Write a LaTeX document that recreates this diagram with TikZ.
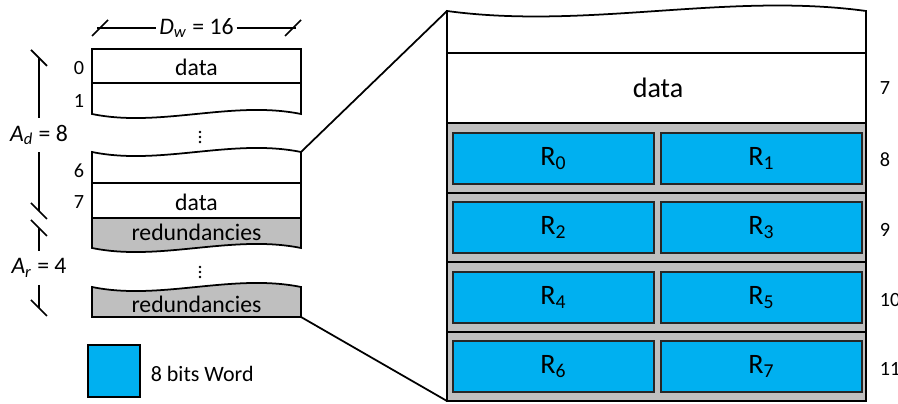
\documentclass[tikz,border=0pt]{standalone}
\usepackage{fontspec}
\setmainfont{Carlito}
\usepackage{tikz}
\definecolor{wordblue}{RGB}{0,176,240}
\definecolor{redgray}{RGB}{191,191,191}
\tikzset{
  memline/.style={line width=1pt},
  word/.style={draw=black!85,line width=0.7pt,fill=wordblue,minimum width=4.02cm,minimum height=1.02cm,inner sep=0pt,font=\fontsize{16}{19}\selectfont},
  addr/.style={font=\fontsize{11.5}{14}\selectfont,inner sep=2pt},
  celltxt/.style={font=\fontsize{13.5}{16}\selectfont},
  dimtxt/.style={font=\fontsize{13.5}{16}\selectfont,inner sep=1.5pt},
}
\begin{document}
\begin{tikzpicture}[x=0.02cm,y=-0.02cm]
      \useasboundingbox (0,0) rectangle (898,404);
      % left: memory words
      \draw[memline,fill=white] (92,49) rectangle (301,83);
      \draw[memline,fill=white] (92,83) -- (301,83) -- (301,114) .. controls (232,100) and (160,128) .. (92,114) -- cycle;
      \draw[memline,fill=white] (92,152) .. controls (160,166) and (232,138) .. (301,152) -- (301,183) -- (92,183) -- cycle;
      \draw[memline,fill=white] (92,183) rectangle (301,218);
      \draw[memline,fill=redgray] (92,218) -- (301,218) -- (301,248) .. controls (232,234) and (160,262) .. (92,248) -- cycle;
      \draw[memline,fill=redgray] (92,287) .. controls (160,301) and (232,273) .. (301,287) -- (301,317) -- (92,317) -- cycle;
      \coordinate (w6ne) at (301,152);
      \coordinate (r2se) at (301,317);
      \node[celltxt] (data0) at (196.5,67) {data};
      \node[celltxt] (data7) at (196.5,202) {data};
      \node[celltxt] (red0) at (196.5,232) {redundancies};
      \node[celltxt] (red1) at (196.5,304) {redundancies};
      \node[addr,anchor=east] (a0) at (88,68) {0};
      \node[addr,anchor=east] (a1) at (88,101) {1};
      \node[addr,anchor=east] (a6) at (88,171) {6};
      \node[addr,anchor=east] (a7) at (88,202) {7};

      % skipped words
      \coordinate (dots0) at (200,137);
      \coordinate (dots1) at (200,272);
      \fill (dots0) circle (0.8pt) ++(0,-5) circle (0.8pt) ++(0,10) circle (0.8pt);
      \fill (dots1) circle (0.8pt) ++(0,-5) circle (0.8pt) ++(0,10) circle (0.8pt);

      % word width
      \coordinate (dwl) at (100,28);
      \coordinate (dwr) at (293,28);
      \node[dimtxt] (dw) at (196.5,28) {\textit{D}\textsubscript{\textit{w}} = 16};
      \draw[memline] (97,28) -- (dw.west);
      \draw[memline] (dw.east) -- (296,28);
      \draw[memline] (dwl) ++(-8,8) -- ++(16,-16);
      \draw[memline] (dwr) ++(-8,8) -- ++(16,-16);

      % address ranges
      \coordinate (ad0) at (39,58);
      \coordinate (ad1) at (39,211);
      \coordinate (ar0) at (39,228);
      \coordinate (ar1) at (39,308);
      \node[dimtxt,inner sep=4pt] (ad) at (39,135) {\textit{A}\textsubscript{\textit{d}} = 8};
      \node[dimtxt,inner sep=4pt] (ar) at (39,268) {\textit{A}\textsubscript{\textit{r}} = 4};
      \draw[memline] (ad0) -- (ad.north);
      \draw[memline] (ad.south) -- (ad1);
      \draw[memline] (ar0) -- (ar.north);
      \draw[memline] (ar.south) -- (ar1);
      \draw[memline] (ad0) ++(-8,-8) -- ++(16,16);
      \draw[memline] (ad1) ++(-8,-8) -- ++(16,16);
      \draw[memline] (ar0) ++(-8,-8) -- ++(16,16);
      \draw[memline] (ar1) ++(-8,-8) -- ++(16,16);

      % legend
      \node[draw=black,memline,fill=wordblue,minimum size=1.04cm,inner sep=0pt] (key) at (114,371) {};
      \node[font=\fontsize{12.5}{15}\selectfont,anchor=west,inner sep=2pt] (keytxt) at (147,374) {8 bits Word};

      % right: zoomed words 7 to 11
      \draw[memline,fill=white] (447,11) .. controls (587,30) and (727,-8) .. (866,11) -- (866,53) -- (447,53) -- cycle;
      \draw[memline,fill=white] (447,53) rectangle (866,123);
      \draw[memline,fill=redgray] (447,123) rectangle (866,193);
      \draw[memline,fill=redgray] (447,193) rectangle (866,262);
      \draw[memline,fill=redgray] (447,262) rectangle (866,332);
      \draw[memline,fill=redgray] (447,332) rectangle (866,401);
      \coordinate (zoomnw) at (447,11);
      \coordinate (zoomsw) at (447,401);
      \node[font=\fontsize{16}{19}\selectfont] (data7z) at (658,88) {data};
      \node[word] (r0) at (553.5,158.5) {R\textsubscript{0}};
      \node[word] (r1) at (761.5,158.5) {R\textsubscript{1}};
      \node[word] (r2) at (553.5,227.5) {R\textsubscript{2}};
      \node[word] (r3) at (761.5,227.5) {R\textsubscript{3}};
      \node[word] (r4) at (553.5,297.5) {R\textsubscript{4}};
      \node[word] (r5) at (761.5,297.5) {R\textsubscript{5}};
      \node[word] (r6) at (553.5,366.5) {R\textsubscript{6}};
      \node[word] (r7) at (761.5,366.5) {R\textsubscript{7}};
      \node[addr,anchor=west] (z7) at (876,88) {7};
      \node[addr,anchor=west] (z8) at (876,160) {8};
      \node[addr,anchor=west] (z9) at (876,230) {9};
      \node[addr,anchor=west] (z10) at (876,300) {10};
      \node[addr,anchor=west] (z11) at (876,369) {11};

      % zoom lines
      \draw[memline] (w6ne) -- (zoomnw);
      \draw[memline] (r2se) -- (zoomsw);
    \end{tikzpicture}
\end{document}
